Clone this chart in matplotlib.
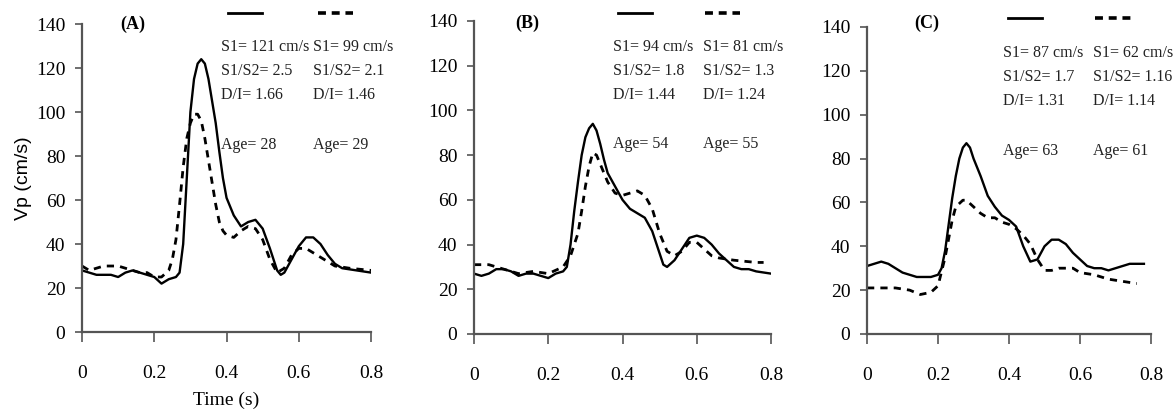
import numpy as np
import matplotlib
matplotlib.use("Agg")
import matplotlib.pyplot as plt

# Panel A
t_a_solid = [0, 0.02, 0.04, 0.06, 0.08, 0.10, 0.12, 0.14, 0.16, 0.18, 0.20, 0.22, 0.24, 0.26, 0.27,
             0.28, 0.29, 0.30, 0.31, 0.32, 0.33, 0.34, 0.35, 0.36, 0.37, 0.38, 0.39, 0.40, 0.42,
             0.44, 0.46, 0.48, 0.50, 0.52, 0.54, 0.55, 0.56, 0.58, 0.60, 0.62, 0.64, 0.66, 0.68,
             0.70, 0.72, 0.76, 0.80]
v_a_solid = [28, 27, 26, 26, 26, 25, 27, 28, 27, 26, 25, 22, 24, 25, 27,
             40, 70, 100, 115, 122, 124, 122, 115, 105, 95, 82, 70, 61, 53,
             48, 50, 51, 47, 38, 28, 26, 27, 33, 39, 43, 43, 40, 35,
             31, 29, 28, 27]
t_a_dash = [0, 0.02, 0.04, 0.06, 0.08, 0.10, 0.12, 0.14, 0.16, 0.18, 0.20, 0.22, 0.24, 0.25, 0.26,
            0.27, 0.28, 0.29, 0.30, 0.31, 0.32, 0.33, 0.34, 0.35, 0.36, 0.37, 0.38, 0.39, 0.40,
            0.42, 0.44, 0.46, 0.48, 0.50, 0.52, 0.54, 0.56, 0.58, 0.60, 0.62, 0.64, 0.66, 0.68,
            0.70, 0.74, 0.80]
v_a_dash = [30, 28, 29, 30, 30, 30, 29, 28, 27, 27, 25, 25, 28, 33, 42,
            58, 75, 88, 95, 99, 99, 96, 88, 78, 68, 58, 50, 46, 44,
            43, 46, 48, 47, 42, 33, 27, 29, 35, 38, 38, 36, 34, 32,
            30, 29, 28]

# Panel B
t_b_solid = [0, 0.02, 0.04, 0.06, 0.08, 0.10, 0.12, 0.14, 0.16, 0.18, 0.20, 0.22, 0.24, 0.25, 0.26,
             0.27, 0.28, 0.29, 0.30, 0.31, 0.32, 0.33, 0.34, 0.35, 0.36, 0.38, 0.40, 0.42, 0.44,
             0.46, 0.48, 0.50, 0.51, 0.52, 0.54, 0.56, 0.58, 0.60, 0.62, 0.64, 0.66, 0.68, 0.70,
             0.72, 0.74, 0.76, 0.80]
v_b_solid = [27, 26, 27, 29, 29, 28, 26, 27, 27, 26, 25, 27, 28, 30, 40,
             55, 68, 80, 88, 92, 94, 91, 85, 78, 72, 66, 60, 56, 54,
             52, 46, 36, 31, 30, 33, 38, 43, 44, 43, 40, 36, 33, 30,
             29, 29, 28, 27]
t_b_dash = [0, 0.04, 0.08, 0.12, 0.16, 0.20, 0.24, 0.26, 0.28, 0.29, 0.30, 0.31, 0.32, 0.33, 0.34,
            0.36, 0.38, 0.40, 0.42, 0.44, 0.46, 0.48, 0.50, 0.52, 0.54, 0.56, 0.58, 0.60, 0.62,
            0.64, 0.66, 0.70, 0.76, 0.78]
v_b_dash = [31, 31, 29, 27, 28, 27, 30, 35, 45, 55, 66, 75, 81, 80, 76,
            68, 63, 62, 63, 64, 62, 56, 45, 37, 35, 37, 41, 41, 38,
            35, 34, 33, 32, 32]

# Panel C
t_c_solid = [0, 0.02, 0.04, 0.06, 0.08, 0.10, 0.12, 0.14, 0.16, 0.18, 0.20, 0.21, 0.22, 0.23, 0.24,
             0.25, 0.26, 0.27, 0.28, 0.29, 0.30, 0.32, 0.34, 0.36, 0.38, 0.40, 0.42, 0.44, 0.46,
             0.48, 0.50, 0.52, 0.54, 0.56, 0.58, 0.60, 0.62, 0.64, 0.66, 0.68, 0.70, 0.72, 0.74,
             0.76, 0.78]
v_c_solid = [31, 32, 33, 32, 30, 28, 27, 26, 26, 26, 27, 30, 38, 50, 62,
             72, 80, 85, 87, 85, 80, 72, 63, 58, 54, 52, 49, 40, 33,
             34, 40, 43, 43, 41, 37, 34, 31, 30, 30, 29, 30, 31, 32,
             32, 32]
t_c_dash = [0, 0.04, 0.08, 0.12, 0.15, 0.18, 0.20, 0.22, 0.24, 0.25, 0.27, 0.28, 0.30, 0.32, 0.34,
            0.36, 0.38, 0.40, 0.42, 0.44, 0.46, 0.48, 0.50, 0.52, 0.54, 0.56, 0.58, 0.60, 0.64,
            0.68, 0.72, 0.76]
v_c_dash = [21, 21, 21, 20, 18, 19, 22, 35, 52, 58, 61, 61, 58, 55, 53,
            53, 51, 50, 48, 45, 41, 34, 29, 29, 30, 30, 30, 28, 27,
            25, 24, 23]

panel_labels = ["(A)", "(B)", "(C)"]
stats_solid = [["S1= 121 cm/s", "S1/S2= 2.5", "D/I= 1.66", "Age= 28"],
               ["S1= 94 cm/s", "S1/S2= 1.8", "D/I= 1.44", "Age= 54"],
               ["S1= 87 cm/s", "S1/S2= 1.7", "D/I= 1.31", "Age= 63"]]
stats_dash = [["S1= 99 cm/s", "S1/S2= 2.1", "D/I= 1.46", "Age= 29"],
              ["S1= 81 cm/s", "S1/S2= 1.3", "D/I= 1.24", "Age= 55"],
              ["S1= 62 cm/s", "S1/S2= 1.16", "D/I= 1.14", "Age= 61"]]

solid_data = [(t_a_solid, v_a_solid), (t_b_solid, v_b_solid), (t_c_solid, v_c_solid)]
dash_data = [(t_a_dash, v_a_dash), (t_b_dash, v_b_dash), (t_c_dash, v_c_dash)]

SERIF = "Liberation Serif"
DASH = (0, (2.6, 2.2))

# axes rectangles and text layout, in figure / axes fractions
rects = [[0.0698, 0.2076, 0.2460, 0.7351],
         [0.4034, 0.2029, 0.2528, 0.7470],
         [0.7379, 0.2029, 0.2417, 0.7327]]
col_x = [(0.481, 0.800), (0.468, 0.771), (0.479, 0.796)]
row_y = [(0.925, 0.847, 0.770, 0.607), (0.917, 0.840, 0.764, 0.607), (0.915, 0.837, 0.759, 0.596)]
key_y = [1.036, 1.026, 1.029]
key_solid = [(0.505, 0.623), (0.485, 0.599), (0.496, 0.616)]
key_dash = [(0.817, 0.938), (0.778, 0.896), (0.803, 0.933)]
label_pos = [(0.176, 1.0), (0.178, 0.994), (0.211, 1.013)]

fig = plt.figure(figsize=(11.75, 4.19), dpi=100)

for i in range(3):
    ax = fig.add_axes(rects[i])
    ts, vs = solid_data[i]
    td, vd = dash_data[i]
    ax.plot(ts, vs, color="black", lw=1.7)
    ax.plot(td, vd, color="black", lw=2.0, linestyle=DASH)

    ax.set_xlim(0, 0.8)
    ax.set_ylim(0, 140)
    ax.set_xticks([0, 0.2, 0.4, 0.6, 0.8])
    ax.set_xticklabels(["0", "0.2", "0.4", "0.6", "0.8"])
    ax.set_yticks(np.arange(0, 141, 20))
    for s in ["top", "right"]:
        ax.spines[s].set_visible(False)
    for s in ["left", "bottom"]:
        ax.spines[s].set_color("#555555")
        ax.spines[s].set_linewidth(1.6)
    ax.tick_params(axis="x", direction="out", length=7, width=1.2, color="#555555", pad=17)
    ax.tick_params(axis="y", direction="out", length=5, width=1.2, color="#555555", pad=7)
    for lab in ax.get_xticklabels() + ax.get_yticklabels():
        lab.set_fontfamily(SERIF)
        lab.set_fontsize(14)

    # key lines above text columns
    ax.plot(key_solid[i], [key_y[i]] * 2, color="black", lw=2.0,
            transform=ax.transAxes, clip_on=False)
    ax.plot(key_dash[i], [key_y[i]] * 2, color="black", lw=2.6, linestyle=(0, (2.2, 1.6)),
            transform=ax.transAxes, clip_on=False)

    for j in range(4):
        ax.text(col_x[i][0], row_y[i][j], stats_solid[i][j], transform=ax.transAxes,
                ha="left", va="center", fontsize=11.5, family=SERIF, color="#222222")
        ax.text(col_x[i][1], row_y[i][j], stats_dash[i][j], transform=ax.transAxes,
                ha="left", va="center", fontsize=11.5, family=SERIF, color="#222222")

    ax.text(label_pos[i][0], label_pos[i][1], panel_labels[i], transform=ax.transAxes,
            ha="center", va="center", fontsize=13, fontweight="bold", family=SERIF)

    if i == 0:
        ax.set_ylabel("Vp (cm/s)", fontsize=14, family="Liberation Sans", labelpad=3)
        ax.set_xlabel("Time (s)", fontsize=14, family=SERIF, labelpad=7)

fig.savefig("out.png", dpi=100)
